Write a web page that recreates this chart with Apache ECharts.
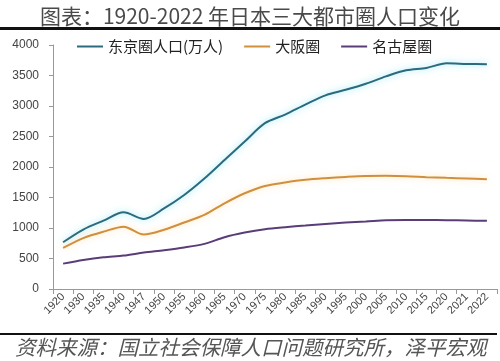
<!DOCTYPE html>
<html>
<head>
<meta charset="utf-8">
<script src="https://cdn.jsdelivr.net/npm/echarts@6/dist/echarts.min.js"></script>
<style>html,body{margin:0;padding:0;background:#fff;}#c{width:500px;height:361px;}</style>
</head>
<body>
<div id="c"></div>
<script>
const years = ['1920','1930','1935','1940','1947','1950','1955','1960','1965','1970','1975','1980','1985','1990','1995','2000','2005','2010','2015','2020','2021','2022'];
const tokyo = [767, 975, 1120, 1258, 1148, 1320, 1540, 1810, 2115, 2418, 2718, 2860, 3022, 3175, 3265, 3365, 3485, 3585, 3623, 3700, 3690, 3683];
const osaka = [673, 835, 940, 1022, 892, 970, 1090, 1215, 1405, 1570, 1690, 1746, 1790, 1817, 1838, 1853, 1855, 1850, 1834, 1822, 1812, 1801];
const nagoya = [416, 476, 520, 548, 597, 635, 680, 740, 849, 925, 980, 1013, 1040, 1067, 1089, 1106, 1126, 1133, 1132, 1128, 1122, 1117];
const yTicks = [0, 500, 1000, 1500, 2000, 2500, 3000, 3500, 4000];
const names = ['东京圈人口(万人)', '大阪圈', '名古屋圈'];

const chart = echarts.init(document.getElementById('c'));
const cjk = '"Noto Sans CJK SC", sans-serif';
chart.setOption({
  animation: false,
  title: {
    text: '图表：1920-2022 年日本三大都市圈人口变化',
    left: 'center', top: 1,
    textStyle: { fontFamily: cjk, fontSize: 21, fontWeight: 'normal', color: '#4a4a4a' }
  },
  legend: {
    top: 34, left: 72,
    itemWidth: 26, itemHeight: 2, itemGap: 21,
    icon: 'rect',
    textStyle: { fontFamily: cjk, fontSize: 15, color: '#222' },
    data: names
  },
  grid: { left: 53, right: 3, top: 45, bottom: 72 },
  xAxis: {
    type: 'category',
    data: years,
    boundaryGap: true,
    axisLine: { lineStyle: { color: '#999' } },
    axisTick: { show: true, length: 5, lineStyle: { color: '#999' } },
    axisLabel: { rotate: 45, interval: 0, fontFamily: 'Liberation Sans, Arial', fontSize: 11, color: '#444', margin: 6 }
  },
  yAxis: {
    type: 'value', min: yTicks[0], max: yTicks[yTicks.length - 1], interval: 500,
    axisLine: { show: true, lineStyle: { color: '#999' } },
    axisTick: { show: true, length: 4, lineStyle: { color: '#999' } },
    splitLine: { show: false },
    axisLabel: { fontFamily: 'Liberation Sans, Arial', fontSize: 12, color: '#444', margin: 14,
      formatter: function (v) { return String(v); } }
  },
  series: [
    { name: names[0], type: 'line', data: tokyo, smooth: 0.3, symbol: 'none',
      itemStyle: { color: '#2c6a7e' },
      lineStyle: { width: 2, color: '#2c6a7e', shadowColor: 'rgba(90,220,240,0.7)', shadowBlur: 6 } },
    { name: names[1], type: 'line', data: osaka, smooth: 0.3, symbol: 'none',
      itemStyle: { color: '#d08f3c' },
      lineStyle: { width: 2, color: '#d08f3c', shadowColor: 'rgba(255,200,120,0.6)', shadowBlur: 6 } },
    { name: names[2], type: 'line', data: nagoya, smooth: 0.3, symbol: 'none',
      itemStyle: { color: '#5a3d77' },
      lineStyle: { width: 2, color: '#5a3d77' } }
  ],
  graphic: [
    { type: 'rect', shape: { x: 0, y: 27, width: 500, height: 3 }, style: { fill: '#111' } },
    { type: 'rect', shape: { x: 0, y: 333, width: 497, height: 2 }, style: { fill: '#111' } },
    { type: 'text', left: 15, top: 337,
      style: { text: '资料来源：国立社会保障人口问题研究所，泽平宏观', fontFamily: cjk, fontSize: 20.5, fontStyle: 'italic', fill: '#555' } }
  ]
});
</script>
</body>
</html>
